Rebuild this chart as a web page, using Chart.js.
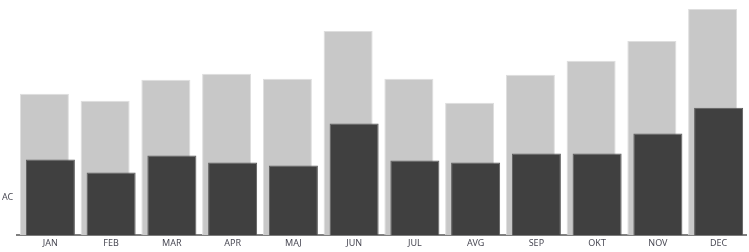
<!DOCTYPE html>
<html>
<head>
<meta charset="utf-8">
<script src="https://cdn.jsdelivr.net/npm/chart.js@4"></script>
<style>
  html, body { margin: 0; padding: 0; background: #fff; }
  #wrap { width: 749px; height: 252px; }
</style>
</head>
<body>
<div id="wrap"><canvas id="acChart"></canvas></div>
<script>
const months = ['JAN', 'FEB', 'MAR', 'APR', 'MAJ', 'JUN', 'JUL', 'AVG', 'SEP', 'OKT', 'NOV', 'DEC'];
const previousYear = [142, 135, 156, 162, 157, 205, 157, 133, 161, 175, 195, 227];
const actual = [76, 63, 80, 73, 70, 112, 75, 73, 82, 82, 102, 128];

// actual bars sit on the right but must be painted over the PY bars,
// so skip them in the normal pass and paint them afterwards
const acOnTop = {
  id: 'acOnTop',
  beforeDatasetDraw(chart, args) {
    if (args.index === 1 && !chart.$acPass) return false;
  },
  afterDatasetsDraw(chart) {
    const meta = chart.getDatasetMeta(1);
    chart.$acPass = true;
    meta.controller.draw();
    chart.$acPass = false;

    // "AC" text next to the first actual bar
    const el = meta.data[0];
    const c = chart.ctx;
    c.save();
    c.font = '9px "Noto Sans"';
    c.fillStyle = '#4a4a55';
    c.textAlign = 'left';
    c.textBaseline = 'middle';
    c.fillText('AC', 2, (el.y + el.base) / 2);
    c.restore();
  }
};

const ctx = document.getElementById('acChart').getContext('2d');
const acChart = new Chart(ctx, {
  type: 'bar',
  data: {
    labels: months,
    datasets: [{
      label: 'PY',
      data: previousYear,
      backgroundColor: '#c8c8c8',
      borderColor: '#dedede',
      borderWidth: 1
    }, {
      label: 'AC',
      data: actual,
      backgroundColor: '#404040',
      borderColor: '#5c5c5c',
      borderWidth: 1
    }]
  },
  options: {
    responsive: true,
    maintainAspectRatio: false,
    animation: false,
    // small slots with wide bars so the two bars overlap with a 6px shift
    categoryPercentage: 12 / 60.7,
    barPercentage: 49 / 6,
    layout: {
      padding: { left: 17, right: 3, top: 9, bottom: 0 }
    },
    plugins: {
      legend: { display: false },
      tooltip: { enabled: false }
    },
    scales: {
      x: {
        grid: { display: false, drawTicks: false },
        border: { display: true, color: '#808080', width: 2 },
        ticks: {
          color: '#4a4a55',
          font: { family: 'Noto Sans', size: 9 },
          padding: 3,
          labelOffset: 3,
          maxRotation: 0
        }
      },
      y: {
        display: false,
        min: 0,
        max: 227
      }
    }
  },
  plugins: [acOnTop]
});
</script>
</body>
</html>
